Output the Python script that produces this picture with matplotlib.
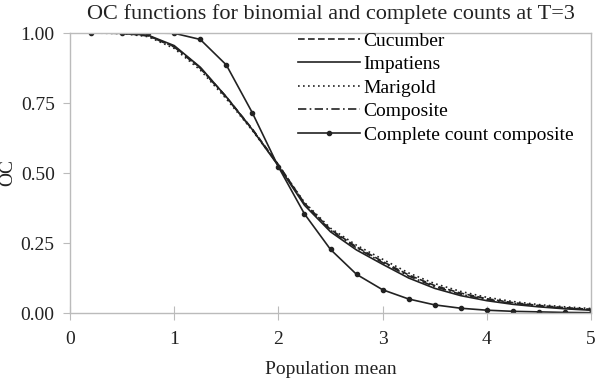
import matplotlib
matplotlib.use("Agg")
import matplotlib.pyplot as plt

# binomial OC curves
x_bin = [0.2, 0.5, 0.75, 1.0, 1.25, 1.5, 1.75, 2.0, 2.25, 2.5,
         2.75, 3.0, 3.25, 3.5, 3.75, 4.0, 4.25, 4.5, 4.75, 5.0]
cucumber = [1.0, 0.999, 0.990, 0.952, 0.876, 0.772, 0.657, 0.530, 0.392, 0.298,
            0.236, 0.184, 0.136, 0.098, 0.071, 0.051, 0.037, 0.027, 0.019, 0.013]
impatiens = [1.0, 0.999, 0.992, 0.955, 0.878, 0.772, 0.655, 0.525, 0.385, 0.290,
             0.225, 0.174, 0.125, 0.088, 0.062, 0.044, 0.031, 0.022, 0.015, 0.010]
marigold = [1.0, 0.998, 0.987, 0.945, 0.868, 0.765, 0.652, 0.528, 0.395, 0.303,
            0.242, 0.192, 0.143, 0.105, 0.077, 0.056, 0.041, 0.030, 0.022, 0.016]
composite = [1.0, 0.999, 0.990, 0.950, 0.874, 0.770, 0.655, 0.528, 0.390, 0.295,
             0.232, 0.180, 0.132, 0.094, 0.067, 0.048, 0.034, 0.025, 0.017, 0.012]

# complete count composite
x_cc = [0.2, 0.5, 0.75, 1.0, 1.25, 1.5, 1.75, 2.0, 2.25, 2.5,
        2.75, 3.0, 3.25, 3.5, 3.75, 4.0, 4.25, 4.5, 4.75, 5.0]
complete = [1.0, 1.0, 1.0, 0.999, 0.977, 0.886, 0.715, 0.522, 0.354, 0.227,
            0.138, 0.083, 0.050, 0.029, 0.017, 0.010, 0.006, 0.004, 0.002, 0.001]

x_ticks = [0, 1, 2, 3, 4, 5]
y_ticks = [0.0, 0.25, 0.5, 0.75, 1.0]

plt.rcParams["font.family"] = ["Liberation Serif", "DejaVu Serif"]
FS = 14
LC = "#222222"
GRID = "#bbbbbb"
TXT = "#222222"

fig = plt.figure(figsize=(5.99, 3.78), dpi=100)
ax = fig.add_axes([70 / 599, 65 / 378, 521 / 599, 280 / 378])

ax.plot(x_bin, cucumber, color=LC, lw=1.2, ls=(0, (4, 2)), label="Cucumber")
ax.plot(x_bin, impatiens, color=LC, lw=1.2, ls="-", label="Impatiens")
ax.plot(x_bin, marigold, color=LC, lw=1.2, ls=(0, (1, 2)), label="Marigold")
ax.plot(x_bin, composite, color=LC, lw=1.2, ls=(0, (5, 2, 1, 2)), label="Composite")
ax.plot(x_cc, complete, color=LC, lw=1.2, marker="o", ms=3.0, label="Complete count composite")

ax.set_xlim(0, 5)
ax.set_ylim(0, 1)
ax.set_xticks(x_ticks)
ax.set_xticklabels([str(v) for v in x_ticks])
ax.set_yticks(y_ticks)
ax.set_yticklabels([f"{v:.2f}" for v in y_ticks])
for s in ax.spines.values():
    s.set_color(GRID)
    s.set_linewidth(1.0)
ax.tick_params(axis="y", direction="out", length=5, color=GRID, labelsize=FS, labelcolor=TXT, pad=6)
ax.tick_params(axis="x", direction="inout", length=10, color=GRID, labelsize=FS, labelcolor=TXT, pad=8)

ax.set_title("OC functions for binomial and complete counts at T=3", fontsize=16, color=TXT, pad=10)
ax.set_xlabel("Population mean", fontsize=FS, color=TXT, labelpad=9)
ax.set_ylabel("OC", fontsize=FS, color=TXT)
ax.yaxis.set_label_coords(-0.104, 0.5)

ax.legend(loc="upper left", bbox_to_anchor=(0.433, 1.01), frameon=False, fontsize=FS,
          handlelength=3.2, handletextpad=0.2, labelspacing=0.3, borderaxespad=0, borderpad=0.1)

fig.savefig("out.png", dpi=100)
